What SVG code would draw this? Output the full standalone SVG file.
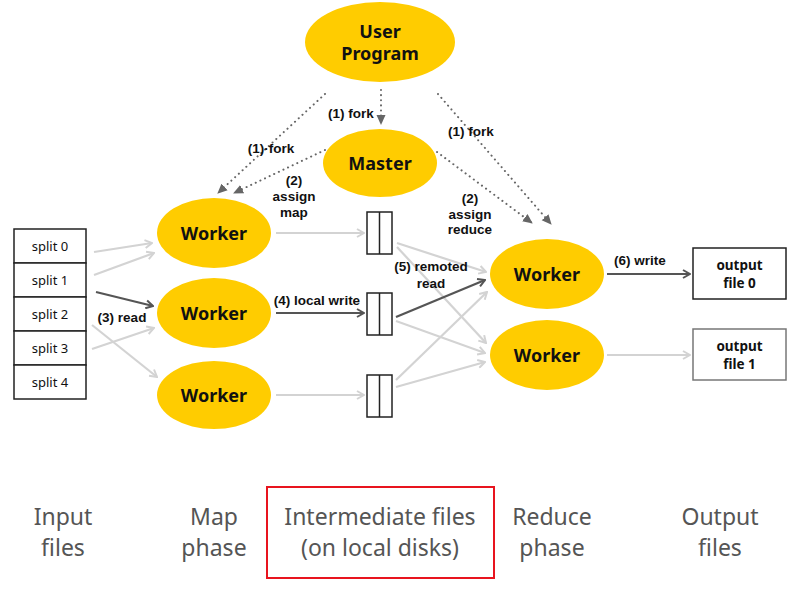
<svg xmlns="http://www.w3.org/2000/svg" width="797" height="590" viewBox="0 0 797 590">
<defs>
<style>
.ell{fill:#FFCC00}
.nt{font-family:"Noto Sans","Open Sans",sans-serif;font-weight:bold;font-size:18px;fill:#111;text-anchor:middle}
.lb{font-family:"Liberation Sans",Arial,sans-serif;font-weight:bold;font-size:13.5px;fill:#111;text-anchor:middle}
.sp{font-family:"Noto Sans","Open Sans",sans-serif;font-size:13px;fill:#111;text-anchor:middle}
.ot{font-family:"Noto Sans","Open Sans",sans-serif;font-weight:bold;font-size:13.5px;fill:#111;text-anchor:middle}
.ph{font-family:"Noto Sans","Open Sans",sans-serif;font-size:23px;fill:#555;text-anchor:middle}
.box{fill:#fff;stroke:#222;stroke-width:1.5}
.lt{stroke:#d3d3d3;stroke-width:2.2;fill:none}
.dk{stroke:#555;stroke-width:2.2;fill:none}
.dt{stroke:#666;stroke-width:2;stroke-dasharray:0.1 5;stroke-linecap:round;fill:none}
</style>
<marker id="ml" viewBox="0 0 10 10" refX="9" refY="5" markerWidth="10" markerHeight="10" markerUnits="userSpaceOnUse" orient="auto">
<path d="M2,1 L9,5 L2,9" fill="none" stroke="#d3d3d3" stroke-width="2"/>
</marker>
<marker id="md" viewBox="0 0 10 10" refX="9" refY="5" markerWidth="10" markerHeight="10" markerUnits="userSpaceOnUse" orient="auto">
<path d="M2,1 L9,5 L2,9" fill="none" stroke="#555" stroke-width="2"/>
</marker>
<marker id="mt" viewBox="0 0 10 10" refX="9" refY="5" markerWidth="10" markerHeight="10" markerUnits="userSpaceOnUse" orient="auto">
<path d="M0,0.5 L10,5 L0,9.5 Z" fill="#666"/>
</marker>
</defs>
<rect width="797" height="590" fill="#fff"/>

<g id="connectors">
<path class="dt" d="M325,94 L218,193" marker-end="url(#mt)"/>
<path class="dt" d="M381,90 L381,124" marker-end="url(#mt)"/>
<path class="dt" d="M325,150 L234,193" marker-end="url(#mt)"/>
<path class="dt" d="M438,94 L551,224" marker-end="url(#mt)"/>
<path class="dt" d="M437,152 L532,223" marker-end="url(#mt)"/>

<path class="lt" d="M94,252 L152,243" marker-end="url(#ml)"/>
<path class="lt" d="M94,275 L154,253" marker-end="url(#ml)"/>
<path class="dk" d="M96,292 L153,306" marker-end="url(#md)"/>
<path class="lt" d="M92,349 L154,328" marker-end="url(#ml)"/>
<path class="lt" d="M92,325 L157,377" marker-end="url(#ml)"/>

<path class="lt" d="M276,233 L364,233" marker-end="url(#ml)"/>
<path class="dk" d="M276,313 L364,313" marker-end="url(#md)"/>
<path class="lt" d="M276,395 L364,395" marker-end="url(#ml)"/>

<path class="lt" d="M397,243 L486,272" marker-end="url(#ml)"/>
<path class="lt" d="M397,247 L486,343" marker-end="url(#ml)"/>
<path class="dk" d="M396,317 L485,280" marker-end="url(#md)"/>
<path class="lt" d="M396,321 L485,353" marker-end="url(#ml)"/>
<path class="lt" d="M396,380 L487,292" marker-end="url(#ml)"/>
<path class="lt" d="M396,387 L485,362" marker-end="url(#ml)"/>

<path class="dk" d="M607,274 L690,274" marker-end="url(#md)"/>
<path class="lt" d="M607,355 L690,355" marker-end="url(#ml)"/>
</g>

<g id="labels">
<text class="lb" x="351" y="118">(1) fork</text>
<text class="lb" x="271" y="153">(1)·fork</text>
<text class="lb" x="294" y="185">(2)<tspan x="294" dy="16">assign</tspan><tspan x="294" dy="16">map</tspan></text>
<text class="lb" x="471" y="136">(1) fork</text>
<text class="lb" x="470" y="203">(2)<tspan x="470" dy="15.6">assign</tspan><tspan x="470" dy="15.6">reduce</tspan></text>
<text class="lb" x="122" y="322">(3) read</text>
<text class="lb" x="317" y="305">(4) local write</text>
<text class="lb" x="431" y="271">(5) remoted<tspan x="431" dy="17">read</tspan></text>
<text class="lb" x="640" y="265">(6) write</text>
</g>

<g id="user-program">
<ellipse class="ell" cx="380" cy="42" rx="75" ry="40"/>
<text class="nt" x="380" y="38">User</text>
<text class="nt" x="380" y="60">Program</text>
</g>
<g id="master">
<ellipse class="ell" cx="380" cy="163" rx="57" ry="34"/>
<text class="nt" x="380" y="170">Master</text>
</g>
<g id="map-worker-0">
<ellipse class="ell" cx="214" cy="233" rx="57" ry="35"/>
<text class="nt" x="214" y="240">Worker</text>
</g>
<g id="map-worker-1">
<ellipse class="ell" cx="214" cy="313" rx="57" ry="35"/>
<text class="nt" x="214" y="320">Worker</text>
</g>
<g id="map-worker-2">
<ellipse class="ell" cx="214" cy="395" rx="57" ry="34"/>
<text class="nt" x="214" y="402">Worker</text>
</g>
<g id="reduce-worker-0">
<ellipse class="ell" cx="547" cy="274" rx="57" ry="35"/>
<text class="nt" x="547" y="281">Worker</text>
</g>
<g id="reduce-worker-1">
<ellipse class="ell" cx="547" cy="355" rx="57" ry="35"/>
<text class="nt" x="547" y="362">Worker</text>
</g>

<g id="input-splits">
<rect class="box" x="14" y="229" width="72" height="34"/>
<rect class="box" x="14" y="263" width="72" height="34"/>
<rect class="box" x="14" y="297" width="72" height="34"/>
<rect class="box" x="14" y="331" width="72" height="34"/>
<rect class="box" x="14" y="365" width="72" height="34"/>
<text class="sp" x="50" y="251">split 0</text>
<text class="sp" x="50" y="285">split 1</text>
<text class="sp" x="50" y="319">split 2</text>
<text class="sp" x="50" y="353">split 3</text>
<text class="sp" x="50" y="387">split 4</text>
</g>

<g id="intermediate-0">
<rect class="box" x="367" y="212" width="25" height="42"/>
<line x1="379.5" y1="212" x2="379.5" y2="254" stroke="#222" stroke-width="1.5"/>
</g>
<g id="intermediate-1">
<rect class="box" x="367" y="293" width="25" height="42"/>
<line x1="379.5" y1="293" x2="379.5" y2="335" stroke="#222" stroke-width="1.5"/>
</g>
<g id="intermediate-2">
<rect class="box" x="367" y="375" width="25" height="42"/>
<line x1="379.5" y1="375" x2="379.5" y2="417" stroke="#222" stroke-width="1.5"/>
</g>

<g id="output-0">
<rect class="box" x="693" y="248" width="93" height="51"/>
<text class="ot" x="739.5" y="270">output</text>
<text class="ot" x="739.5" y="288">file 0</text>
</g>
<g id="output-1">
<rect x="693" y="329" width="93" height="51" fill="#fff" stroke="#777" stroke-width="1.5"/>
<text class="ot" x="739.5" y="351">output</text>
<text class="ot" x="739.5" y="369">file 1</text>
</g>

<g id="phases">
<text class="ph" x="63" y="525">Input</text>
<text class="ph" x="63" y="556">files</text>
<text class="ph" x="214" y="525">Map</text>
<text class="ph" x="214" y="556">phase</text>
<rect x="267" y="487" width="227" height="91" fill="none" stroke="#e8141e" stroke-width="2"/>
<text class="ph" x="380" y="525">Intermediate files</text>
<text class="ph" x="380" y="556">(on local disks)</text>
<text class="ph" x="552" y="525">Reduce</text>
<text class="ph" x="552" y="556">phase</text>
<text class="ph" x="720" y="525">Output</text>
<text class="ph" x="720" y="556">files</text>
</g>
</svg>
